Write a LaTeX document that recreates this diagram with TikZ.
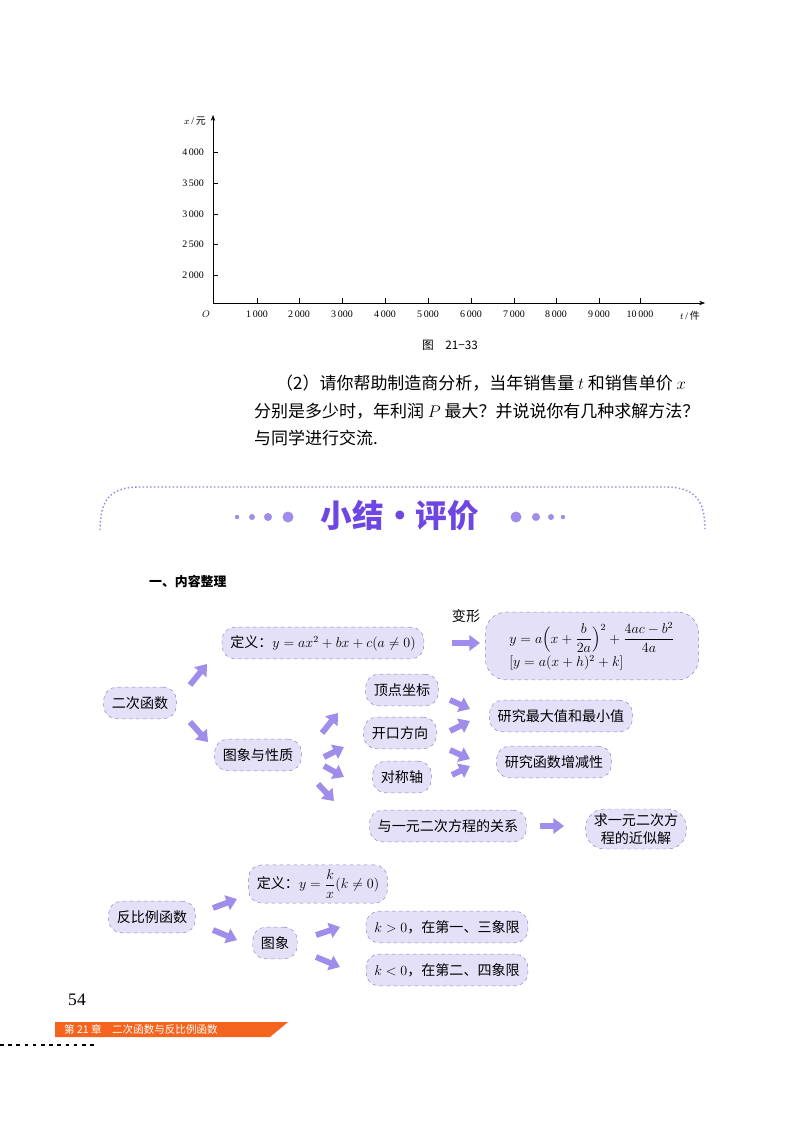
\documentclass[tikz,border=0pt]{standalone}
\usepackage{amsmath}
\usepackage{fontspec}
\setmainfont{Liberation Serif}
\newfontfamily\cjk{Noto Sans CJK SC}
\newfontfamily\cjkb{Noto Sans CJK SC Black}
\usetikzlibrary{arrows.meta,shapes.misc}
\definecolor{boxfill}{RGB}{228,224,248}
\definecolor{boxline}{RGB}{140,130,190}
\definecolor{fatc}{RGB}{160,140,235}
\definecolor{titlec}{RGB}{110,70,225}
\definecolor{orangec}{RGB}{245,100,30}
\begin{document}
\begin{tikzpicture}[x=0.03cm,y=-0.03cm,
  bx/.style={draw=boxline,dashed,fill=boxfill,rounded corners=11pt,inner xsep=7pt,inner ysep=4pt,minimum height=27pt,font=\cjk\fontsize{12}{15}\selectfont},
  fat/.style={draw=fatc,line width=5pt,-{Triangle[length=9pt,width=13pt]}},
  lbl/.style={font=\fontsize{8.5}{9}\selectfont},
  para/.style={anchor=west,font=\cjk\fontsize{14.5}{16}\selectfont}]
\useasboundingbox (0,0) rectangle (800,1121);
% chart
\draw[-{Stealth[length=5pt]}] (213,303) -- (213,115);
\draw[-{Stealth[length=5pt]}] (213,303) -- (705,303);
\foreach \y/\t in {152/4\,000,183/3\,500,214/3\,000,244/2\,500,275/2\,000}{
  \draw (213,\y) -- (218,\y);
  \node[lbl,anchor=east] at (208,\y) {\t};}
\foreach \x/\t in {257/1\,000,299/2\,000,342/3\,000,385/4\,000,428/5\,000,471/6\,000,514/7\,000,556/8\,000,599/9\,000,640/10\,000}{
  \draw (\x,303) -- (\x,298);
  \node[lbl] at (\x,314) {\t};}
\node[lbl,anchor=east] (ylab) at (210,121) {$x$\,/\,{\cjk 元}};
\node[lbl] (O) at (206,314) {$O$};
\node[lbl] (xlab) at (690,316) {$t$\,/\,{\cjk 件}};
\node[font=\cjk\fontsize{10}{11}\selectfont] (cap) at (450,345) {图\quad 21−33};
\node[para] (p1) at (272,383) {（2）请你帮助制造商分析，当年销售量 $t$ 和销售单价 $x$};
\node[para] (p2) at (250,411) {分别是多少时，年利润 $P$ 最大？并说说你有几种求解方法？};
\node[para] (p3) at (250,438) {与同学进行交流.};
% header
\draw[titlec!70,dotted,line width=1.2pt] (100,530) .. controls (100,500) and (110,487) .. (140,487) -- (665,487) .. controls (695,487) and (705,500) .. (705,530);
\node[font=\cjkb\fontsize{27}{30}\selectfont,text=titlec] (title) at (400,516) {小结·评价};
\foreach \x/\r in {237/2.2,252/3,268/4,288/5.5,516/5.5,536/4,551/3,563/2.2}
  \fill[fatc] (\x,517) circle (\r);
\node[anchor=west,font=\cjkb\fontsize{11}{12}\selectfont] (sec) at (145,582) {一、内容整理};
% mind map 1
\node[bx] (qf) at (140,703) {二次函数};
\node[bx] (def) at (323,643) {定义：$y=ax^2+bx+c(a\neq0)$};
\node[font=\cjk\fontsize{12}{13}\selectfont] (bx1) at (466,616) {变形};
\node[bx,rounded corners=18pt,minimum height=58pt,minimum width=182pt,inner xsep=10pt,align=left] (form) at (592,646)
  {$y=a\Bigl(x+\dfrac{b}{2a}\Bigr)^{2}+\dfrac{4ac-b^{2}}{4a}$\\[1pt] $[y=a(x+h)^2+k]$};
\node[bx] (img) at (258,755) {图象与性质};
\node[bx] (v) at (402,690) {顶点坐标};
\node[bx] (o) at (400,733) {开口方向};
\node[bx] (s) at (402,777) {对称轴};
\node[bx] (mx) at (561,716) {研究最大值和最小值};
\node[bx] (mo) at (554,762) {研究函数增减性};
\node[bx] (eq) at (448,826) {与一元二次方程的关系};
\node[bx,align=center,rounded corners=16pt] (ap) at (636,829) {求一元二次方\\程的近似解};
\draw[fat] (190,685) -- (207,664);
\draw[fat] (190,722) -- (208,742);
\draw[fat] (452,643) -- (480,643);
\draw[fat] (322,733) -- (338,713);
\draw[fat] (324,757) -- (344,747);
\draw[fat] (324,766) -- (344,777);
\draw[fat] (318,784) -- (334,801);
\draw[fat] (450,700) -- (470,709);
\draw[fat] (450,731) -- (470,721);
\draw[fat] (450,750) -- (470,759);
\draw[fat] (452,775) -- (470,766);
\draw[fat] (540,826) -- (564,826);
% mind map 2
\node[bx] (inv) at (152,917) {反比例函数};
\node[bx] (def2) at (318,884) {定义：$y=\dfrac{k}{x}(k\neq0)$};
\node[bx] (img2) at (275,943) {图象};
\node[bx] (kp) at (447,927) {$k>0$，在第一、三象限};
\node[bx] (kn) at (447,970) {$k<0$，在第二、四象限};
\draw[fat] (213,908) -- (237,899);
\draw[fat] (213,930) -- (237,940);
\draw[fat] (316,935) -- (340,927);
\draw[fat] (316,957) -- (340,967);
% footer
\node[font=\fontsize{15}{16}\selectfont] (pg) at (77,1000) {54};
\fill[orangec] (55,1022) -- (288,1022) -- (270,1037) -- (55,1037) -- cycle;
\node[anchor=west,text=white,font=\cjk\fontsize{9}{10}\selectfont] (ch) at (60,1029.5) {第 21 章\quad 二次函数与反比例函数};
\draw[dashed,line width=1pt,dash pattern=on 3pt off 4pt] (0,1045) -- (97,1045);
\end{tikzpicture}
\end{document}
